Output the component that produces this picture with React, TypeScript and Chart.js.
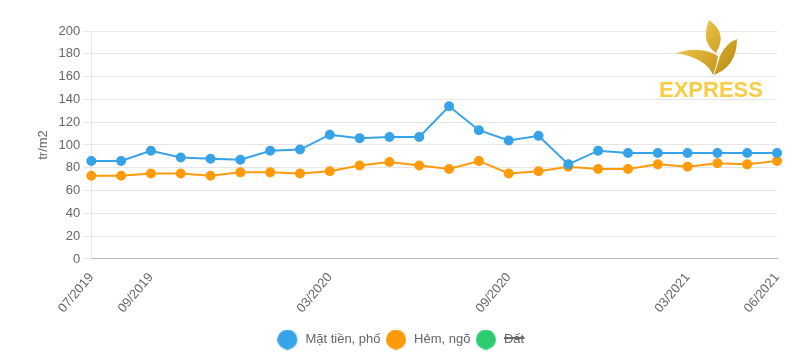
import React, { useEffect, useRef } from "react";
import { Chart, registerables } from "chart.js";

Chart.register(...registerables);

const months = [
  "07/2019", "08/2019", "09/2019", "10/2019", "11/2019", "12/2019",
  "01/2020", "02/2020", "03/2020", "04/2020", "05/2020", "06/2020",
  "07/2020", "08/2020", "09/2020", "10/2020", "11/2020", "12/2020",
  "01/2021", "02/2021", "03/2021", "04/2021", "05/2021", "06/2021",
];
const shownLabels = ["07/2019", "09/2019", "03/2020", "09/2020", "03/2021", "06/2021"];

const matTien = [86, 86, 95, 89, 88, 87, 95, 96, 109, 106, 107, 107, 134, 113, 104, 108, 83, 95, 93, 93, 93, 93, 93, 93];
const hemNgo = [73, 73, 75, 75, 73, 76, 76, 75, 77, 82, 85, 82, 79, 86, 75, 77, 81, 79, 79, 83, 81, 84, 83, 86];
const dat: number[] = [];

function legendDot(color: string) {
  const c = document.createElement("canvas");
  c.width = 30;
  c.height = 20;
  const x = c.getContext("2d")!;
  x.fillStyle = color;
  x.beginPath();
  x.arc(10, 10, 10, 0, Math.PI * 2);
  x.fill();
  return c;
}

const logoPlugin = {
  id: "logo",
  afterDraw(chart: any) {
    const ctx = chart.ctx;
    ctx.save();
    ctx.translate(-8, -8);
    const g = ctx.createLinearGradient(680, 25, 735, 75);
    g.addColorStop(0, "#f6dc72");
    g.addColorStop(0.45, "#dcb033");
    g.addColorStop(1, "#b98a15");
    ctx.fillStyle = g;
    ctx.beginPath();
    ctx.moveTo(709, 20);
    ctx.quadraticCurveTo(728, 33, 716, 53);
    ctx.quadraticCurveTo(700, 42, 709, 20);
    ctx.closePath();
    ctx.fill();
    ctx.beginPath();
    ctx.moveTo(676, 53);
    ctx.quadraticCurveTo(700, 45, 718, 56);
    ctx.lineTo(716, 66);
    ctx.lineTo(713, 75);
    ctx.quadraticCurveTo(706, 58, 676, 53);
    ctx.closePath();
    ctx.fill();
    ctx.beginPath();
    ctx.moveTo(720, 56);
    ctx.quadraticCurveTo(726, 43, 737, 39);
    ctx.quadraticCurveTo(737, 66, 714, 75);
    ctx.lineTo(717, 66);
    ctx.closePath();
    ctx.fill();
    ctx.fillStyle = "#f8cd45";
    ctx.font = "bold 22px 'Liberation Sans', Arial, sans-serif";
    ctx.textBaseline = "alphabetic";
    ctx.fillText("EXPRESS", 659, 97);
    ctx.restore();
  },
};

export default function App() {
  const ref = useRef<HTMLCanvasElement | null>(null);
  useEffect(() => {
    if (!ref.current) return;
    const colors = ["#36a3e8", "#ff9a0a", "#2ecc71"];
    const dots = colors.map(legendDot);
    const chart = new Chart(ref.current, {
      type: "line",
      data: {
        labels: months,
        datasets: [
          {
            label: "Mặt tiền, phố",
            data: matTien,
            borderColor: colors[0],
            backgroundColor: colors[0],
            pointBackgroundColor: colors[0],
            borderWidth: 2,
            pointRadius: 4,
            tension: 0,
            fill: false,
          },
          {
            label: "Hẻm, ngõ",
            data: hemNgo,
            borderColor: colors[1],
            backgroundColor: colors[1],
            pointBackgroundColor: colors[1],
            borderWidth: 2,
            pointRadius: 4,
            tension: 0,
            fill: false,
          },
          {
            label: "Đất",
            data: dat,
            borderColor: colors[2],
            backgroundColor: colors[2],
            hidden: true,
          },
        ],
      },
      options: {
        animation: false,
        responsive: true,
        maintainAspectRatio: false,
        layout: { padding: { top: 23, right: 14, left: 24, bottom: 0 } },
        plugins: {
          legend: {
            position: "bottom",
            labels: {
              usePointStyle: true,
              color: "#666",
              font: { size: 13, family: "'Liberation Sans', Arial, sans-serif" },
              padding: 14,
              generateLabels: (ch: any) => {
                const items = (Chart as any).defaults.plugins.legend.labels.generateLabels(ch);
                return items.map((it: any, i: number) => ({ ...it, pointStyle: dots[i] }));
              },
            },
          },
          tooltip: { enabled: false },
        },
        scales: {
          x: {
            grid: { display: false },
            border: { display: true, color: "#b8b8b8" },
            ticks: {
              autoSkip: false,
              maxRotation: 50,
              minRotation: 50,
              color: "#666",
              font: { size: 13, family: "'Liberation Sans', Arial, sans-serif" },
              callback: function (this: any, _v: any, i: number) {
                const l = months[i];
                return shownLabels.includes(l) ? l : "";
              },
            },
          },
          y: {
            min: 0,
            max: 200,
            ticks: {
              stepSize: 20,
              color: "#666",
              font: { size: 13, family: "'Liberation Sans', Arial, sans-serif" },
            },
            grid: { color: "#e6e6e6", lineWidth: 1 },
            border: { display: true, color: "#e6e6e6" },
            title: {
              display: true,
              text: "tr/m2",
              color: "#666",
              font: { size: 13, family: "'Liberation Sans', Arial, sans-serif" },
            },
          },
        },
      },
      plugins: [logoPlugin],
    });
    return () => chart.destroy();
  }, []);
  return (
    <div style={{ position: "relative", width: 784, height: 348 }}>
      <canvas ref={ref} />
    </div>
  );
}
